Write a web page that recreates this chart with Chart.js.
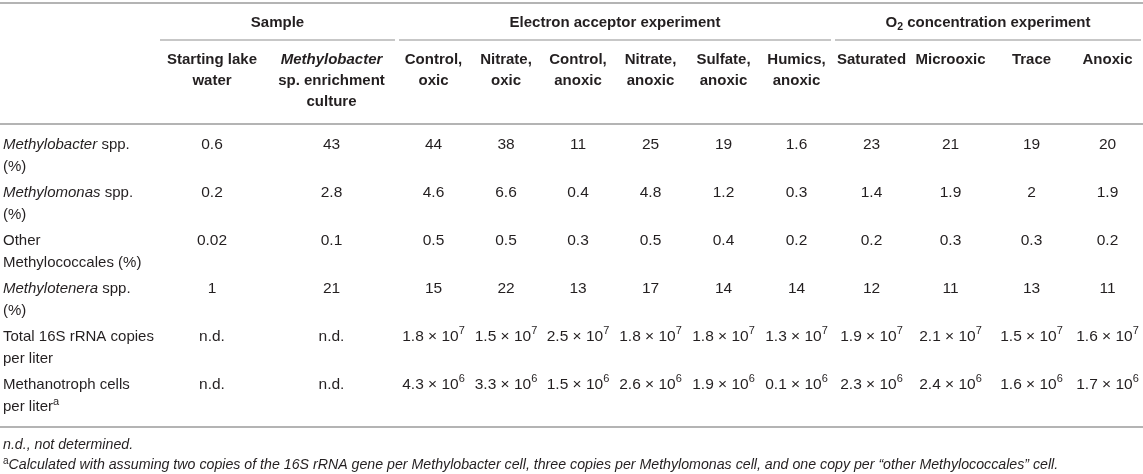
<!DOCTYPE html>
<html>
<head>
<meta charset="utf-8">
<script src="https://cdn.jsdelivr.net/npm/chart.js@4/dist/chart.umd.min.js"></script>
<style>
  html, body { margin: 0; padding: 0; background: #fff; }
  canvas { display: block; }
</style>
</head>
<body>
<canvas id="table-chart" width="1143" height="474"></canvas>
<script>
// column headers (each entry = lines of the header cell)
var sampleCols = [["Starting lake", "water"], ["Methylobacter", "sp. enrichment", "culture"]];
var electronCols = [["Control,", "oxic"], ["Nitrate,", "oxic"], ["Control,", "anoxic"], ["Nitrate,", "anoxic"], ["Sulfate,", "anoxic"], ["Humics,", "anoxic"]];
var oxygenCols = [["Saturated"], ["Microoxic"], ["Trace"], ["Anoxic"]];
var groupLabels = ["Sample", "Electron acceptor experiment", "O2 concentration experiment"];

// row keys
var rowKeys = ["methylobacter", "methylomonas", "other", "methylotenera", "total16s", "methanotroph"];

// values, one per column
var methylobacterPct = [0.6, 43, 44, 38, 11, 25, 19, 1.6, 23, 21, 19, 20];
var methylomonasPct = [0.2, 2.8, 4.6, 6.6, 0.4, 4.8, 1.2, 0.3, 1.4, 1.9, 2, 1.9];
var otherMethylococcalesPct = [0.02, 0.1, 0.5, 0.5, 0.3, 0.5, 0.4, 0.2, 0.2, 0.3, 0.3, 0.2];
var methylotenerarPct = [1, 21, 15, 22, 13, 17, 14, 14, 12, 11, 13, 11];
// mantissas, null = not determined
var total16SMantissa = [null, null, 1.8, 1.5, 2.5, 1.8, 1.8, 1.3, 1.9, 2.1, 1.5, 1.6];
var total16SExp = 7;
var methanotrophMantissa = [null, null, 4.3, 3.3, 1.5, 2.6, 1.9, 0.1, 2.3, 2.4, 1.6, 1.7];
var methanotrophExp = 6;

var footnoteND = "n.d., not determined.";
var footnoteA = "Calculated with assuming two copies of the 16S rRNA gene per Methylobacter cell, three copies per Methylomonas cell, and one copy per \u201cother Methylococcales\u201d cell.";

// layout: column edges in table units (= px here)
var colEdges = [0, 158, 266, 397, 470, 542, 614, 687, 760, 833, 910, 991, 1072, 1143];

var FAM = '"Liberation Sans", Arial, Helvetica, sans-serif';
var F = {
  text: '15px ' + FAM,
  italic: 'italic 15px ' + FAM,
  value: '15.5px ' + FAM,
  sup: '11px ' + FAM,
  bold: 'bold 15px ' + FAM,
  boldItalic: 'italic bold 15px ' + FAM,
  boldSub: 'bold 10.5px ' + FAM,
  note: 'italic 14.2px ' + FAM,
  noteSup: '10px ' + FAM
};
var INK = '#231f20';
var RULE = '#b4b4b4';

function colCenter(i) { return (colEdges[i + 1] + colEdges[i + 2]) / 2; }

function fmt(v) { return v === null ? 'n.d.' : String(v); }

var rows = [
  { key: rowKeys[0], cells: methylobacterPct.map(function (v) { return [{ t: fmt(v), f: F.value }]; }) },
  { key: rowKeys[1], cells: methylomonasPct.map(function (v) { return [{ t: fmt(v), f: F.value }]; }) },
  { key: rowKeys[2], cells: otherMethylococcalesPct.map(function (v) { return [{ t: fmt(v), f: F.value }]; }) },
  { key: rowKeys[3], cells: methylotenerarPct.map(function (v) { return [{ t: fmt(v), f: F.value }]; }) },
  { key: rowKeys[4], cells: total16SMantissa.map(function (m) {
      return m === null ? [{ t: 'n.d.', f: F.value }] : [{ t: m + ' \u00d7 10', f: F.value }, { t: String(total16SExp), f: F.sup, dy: -6 }];
    }) },
  { key: rowKeys[5], cells: methanotrophMantissa.map(function (m) {
      return m === null ? [{ t: 'n.d.', f: F.value }] : [{ t: m + ' \u00d7 10', f: F.value }, { t: String(methanotrophExp), f: F.sup, dy: -6 }];
    }) }
];

// row label lines as runs
var rowLabelRuns = [
  [[{ t: 'Methylobacter', f: F.italic }, { t: ' spp.', f: F.text }], [{ t: '(%)', f: F.text }]],
  [[{ t: 'Methylomonas', f: F.italic }, { t: ' spp.', f: F.text }], [{ t: '(%)', f: F.text }]],
  [[{ t: 'Other', f: F.text }], [{ t: 'Methylococcales (%)', f: F.text }]],
  [[{ t: 'Methylotenera', f: F.italic }, { t: ' spp.', f: F.text }], [{ t: '(%)', f: F.text }]],
  [[{ t: 'Total 16S rRNA copies', f: F.text }], [{ t: 'per liter', f: F.text }]],
  [[{ t: 'Methanotroph cells', f: F.text }], [{ t: 'per liter', f: F.text }, { t: 'a', f: F.sup, dy: -5 }]]
];

function drawRuns(ctx, runs, x, y, align) {
  var w = 0;
  runs.forEach(function (r) { ctx.font = r.f; r.w = ctx.measureText(r.t).width; w += r.w; });
  var sx = align === 'left' ? x : x - w / 2;
  runs.forEach(function (r) {
    ctx.font = r.f;
    ctx.fillText(r.t, sx, y + (r.dy || 0));
    sx += r.w;
  });
}

function hRule(ctx, x1, x2, y, width) {
  ctx.save();
  ctx.strokeStyle = RULE;
  ctx.lineWidth = width;
  ctx.beginPath();
  ctx.moveTo(x1, y);
  ctx.lineTo(x2, y);
  ctx.stroke();
  ctx.restore();
}

var tablePlugin = {
  id: 'tableText',
  afterDatasetsDraw: function (chart) {
    var ctx = chart.ctx;
    var xs = chart.scales.x;
    var ys = chart.scales.y;
    var area = chart.chartArea;
    ctx.save();
    ctx.fillStyle = INK;
    ctx.textBaseline = 'middle';

    // rules
    hRule(ctx, 0, chart.width, 3, 2);
    hRule(ctx, 0, chart.width, area.top, 2);
    hRule(ctx, 0, chart.width, area.bottom + 15, 2);
    var groupSpans = [[1, 3], [3, 9], [9, 13]];
    groupSpans.forEach(function (s, gi) {
      var a = xs.getPixelForValue(colEdges[s[0]]);
      var b = xs.getPixelForValue(colEdges[s[1]]);
      hRule(ctx, a + 2, b - 2, 40, 1.5);
      var cx = (a + b) / 2;
      if (gi === 2) {
        drawRuns(ctx, [{ t: 'O', f: F.bold }, { t: '2', f: F.boldSub, dy: 4 }, { t: ' concentration experiment', f: F.bold }], cx, 23);
      } else {
        drawRuns(ctx, [{ t: groupLabels[gi], f: F.bold }], cx, 23);
      }
    });

    // column headers
    var headers = sampleCols.concat(electronCols, oxygenCols);
    headers.forEach(function (lines, ci) {
      var cx = xs.getPixelForValue(colCenter(ci));
      lines.forEach(function (line, li) {
        var font = (ci === 1 && li === 0) ? F.boldItalic : F.bold;
        drawRuns(ctx, [{ t: line, f: font }], cx, 60 + li * 21);
      });
    });

    // row labels
    rowKeys.forEach(function (k, ri) {
      var cy = ys.getPixelForValue(ri);
      rowLabelRuns[ri].forEach(function (runs, li) {
        drawRuns(ctx, runs, 3, cy - 3 + li * 22, 'left');
      });
    });

    // cells, at the positions of the chart's points
    chart.data.datasets.forEach(function (ds, di) {
      var meta = chart.getDatasetMeta(di);
      meta.data.forEach(function (pt, ci) {
        drawRuns(ctx, rows[di].cells[ci], pt.x, pt.y - 3);
      });
    });

    // footnotes
    drawRuns(ctx, [{ t: footnoteND, f: F.note }], 3, area.bottom + 33, 'left');
    drawRuns(ctx, [{ t: 'a', f: F.noteSup, dy: -4 }, { t: footnoteA, f: F.note }], 3, area.bottom + 53, 'left');
    ctx.restore();
  }
};

var ctx = document.getElementById('table-chart').getContext('2d');
new Chart(ctx, {
  type: 'scatter',
  data: {
    datasets: rows.map(function (r) {
      return {
        label: r.key,
        pointRadius: 0,
        data: r.cells.map(function (c, ci) { return { x: colCenter(ci), y: r.key }; })
      };
    })
  },
  options: {
    responsive: false,
    animation: false,
    events: [],
    layout: { padding: { top: 124, bottom: 62, left: 0, right: 0 } },
    scales: {
      x: { type: 'linear', min: colEdges[0], max: colEdges[colEdges.length - 1], display: false },
      y: { type: 'category', labels: rowKeys, offset: true, display: false }
    },
    plugins: {
      legend: { display: false },
      tooltip: { enabled: false }
    }
  },
  plugins: [tablePlugin]
});
</script>
</body>
</html>
